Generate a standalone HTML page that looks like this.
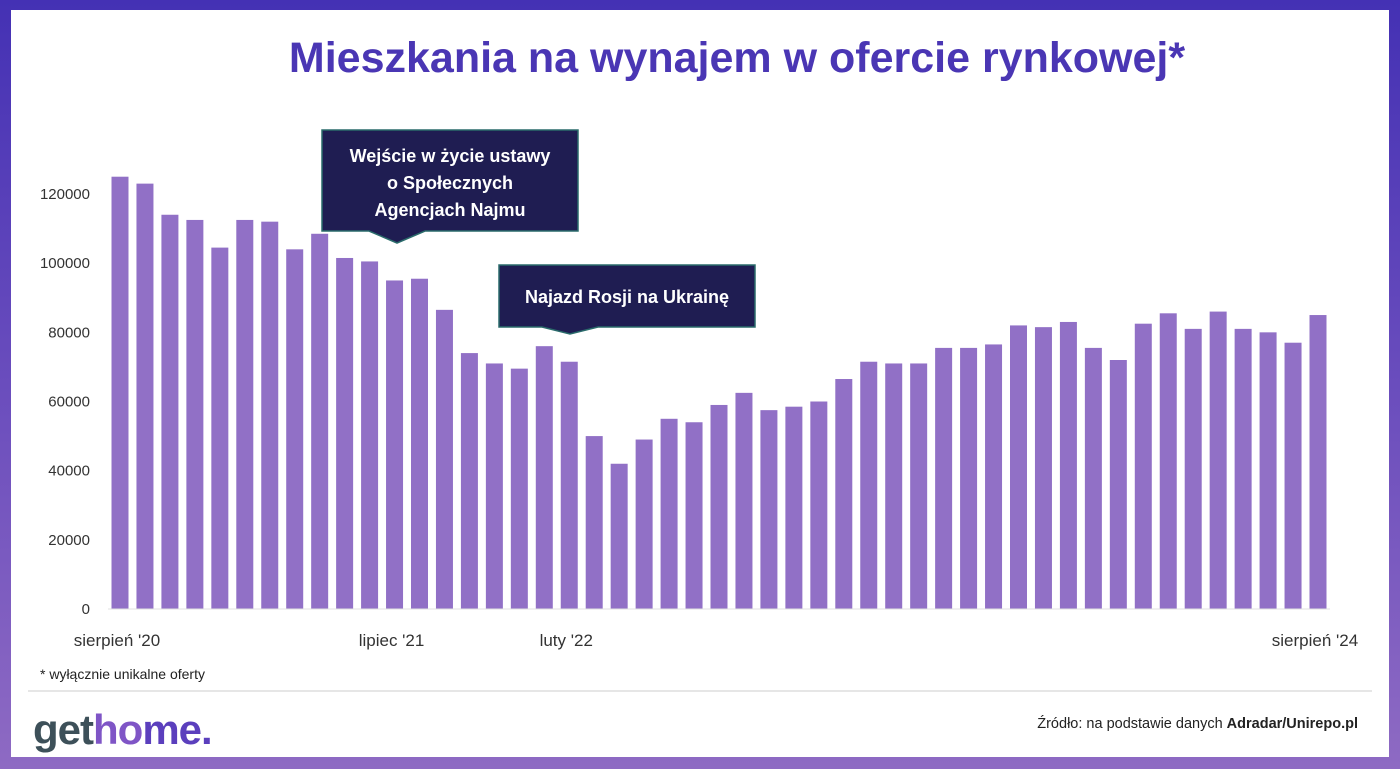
<!DOCTYPE html>
<html><head><meta charset="utf-8"><style>
html,body{margin:0;padding:0}
body{width:1400px;height:769px;background:linear-gradient(#4431b4,#6a4dbd 50%,#8e6ac3);position:relative;overflow:hidden;font-family:"Liberation Sans",sans-serif}
#inner{position:absolute;left:11px;top:10px;right:11px;bottom:12px;background:#fff}
</style></head><body>
<div id="inner"></div>
<svg id="chart" width="1400" height="769" style="position:absolute;left:0;top:0">
<text x="737" y="72" text-anchor="middle" font-size="43" font-weight="bold" fill="#4a36b4">Mieszkania na wynajem w ofercie rynkowej*</text>
<g id="yaxis"></g><g id="bars"></g><g id="xaxis"></g>
<g>
<path d="M322 130H578V231H425L397 243L369 231H322Z" fill="#1f1d52" stroke="#2a6b6b" stroke-width="1.5"/>
<text x="450" y="162" text-anchor="middle" font-size="18" font-weight="bold" fill="#fff">Wejście w życie ustawy</text>
<text x="450" y="189" text-anchor="middle" font-size="18" font-weight="bold" fill="#fff">o Społecznych</text>
<text x="450" y="216" text-anchor="middle" font-size="18" font-weight="bold" fill="#fff">Agencjach Najmu</text>
</g>
<g>
<path d="M499 265H755V327H598L570 334L542 327H499Z" fill="#1f1d52" stroke="#2a6b6b" stroke-width="1.5"/>
<text x="627" y="303" text-anchor="middle" font-size="18" font-weight="bold" fill="#fff">Najazd Rosji na Ukrainę</text>
</g>
<text x="40" y="679" font-size="14" fill="#222">* wyłącznie unikalne oferty</text>
<line x1="28" y1="691" x2="1372" y2="691" stroke="#ddd" stroke-width="1.5"/>
<text x="33" y="744" font-size="42" font-weight="bold" letter-spacing="-1"><tspan fill="#3d5059">get</tspan><tspan fill="#7f55c6">ho</tspan><tspan fill="#5b3fbd">me.</tspan></text>
<text x="1358" y="728" text-anchor="end" font-size="14.5" fill="#222">Źródło: na podstawie danych <tspan font-weight="bold">Adradar/Unirepo.pl</tspan></text>
</svg>
<script>
const values=[125000,123000,114000,112500,104500,112500,112000,104000,108500,101500,100500,95000,95500,86500,74000,71000,69500,76000,71500,50000,42000,49000,55000,54000,59000,62500,57500,58500,60000,66500,71500,71000,71000,75500,75500,76500,82000,81500,83000,75500,72000,82500,85500,81000,86000,81000,80000,77000,85000];
const yTicks=[0,20000,40000,60000,80000,100000,120000];
const xLabels=[[0,"sierpień '20"],[11,"lipiec '21"],[18,"luty '22"],[48,"sierpień '24"]];
const NS="http://www.w3.org/2000/svg";
const y0=609, yScale=(120000/(609-194));
const Y=v=>y0-v/yScale;
const X=i=>120+i*(1318-120)/(values.length-1);
function mk(t,a,p){const e=document.createElementNS(NS,t);for(const k in a)e.setAttribute(k,a[k]);p.appendChild(e);return e;}
const ya=document.getElementById('yaxis'),bg=document.getElementById('bars'),xa=document.getElementById('xaxis');
yTicks.forEach(v=>{const t=mk('text',{x:90,y:Y(v)+5,'text-anchor':'end','font-size':15,fill:'#333'},ya);t.textContent=v;

});
values.forEach((v,i)=>{const r=mk('rect',{x:X(i)-8.5,y:Y(v),width:17,height:y0-Y(v),fill:'#9170c6'},bg);

});
mk('line',{x1:108,x2:1330,y1:y0,y2:y0,stroke:'#e0e0e0'},xa);
xLabels.forEach(([i,l])=>{const t=mk('text',{x:X(i)-3,y:646,'text-anchor':'middle','font-size':17,fill:'#333'},xa);t.textContent=l;

});
</script>
</body></html>
